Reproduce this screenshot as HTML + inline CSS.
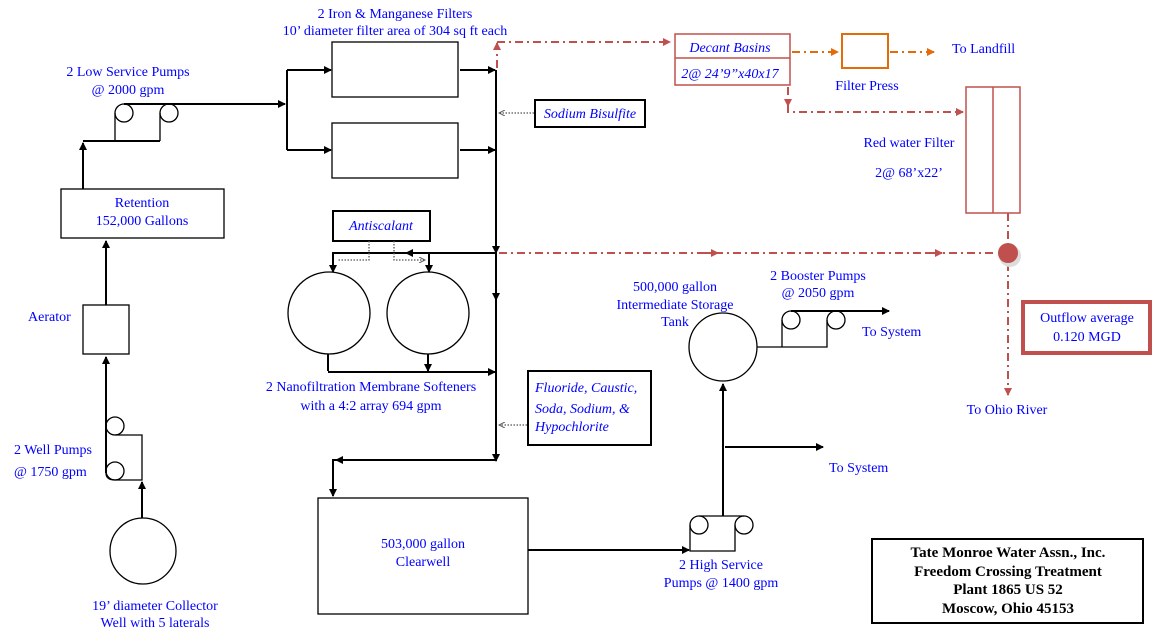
<!DOCTYPE html>
<html><head><style>
body{margin:0;background:#fff}
text{font-family:"Liberation Serif",serif;font-size:14px;fill:#0000ff}
.i{font-style:italic}
.b{fill:#000;font-weight:bold;font-size:15px}
</style></head><body>
<svg width="1167" height="635" viewBox="0 0 1167 635" xmlns="http://www.w3.org/2000/svg">
<defs>
<marker id="a" markerWidth="8" markerHeight="8" refX="7" refY="4" orient="auto" markerUnits="userSpaceOnUse"><path d="M0,0L8,4L0,8z" fill="#000"/></marker>
<marker id="r" markerWidth="8" markerHeight="8" refX="7" refY="4" orient="auto" markerUnits="userSpaceOnUse"><path d="M0,0L8,4L0,8z" fill="#c0504d"/></marker>
<marker id="o" markerWidth="8" markerHeight="8" refX="7" refY="4" orient="auto" markerUnits="userSpaceOnUse"><path d="M0,0L8,4L0,8z" fill="#e36c0a"/></marker>
<marker id="g" markerWidth="7" markerHeight="6" refX="6" refY="3" orient="auto" markerUnits="userSpaceOnUse"><path d="M0,0L6,3L0,6" fill="none" stroke="#555"/></marker>
</defs>
<g stroke="#000" stroke-width="1.3" fill="none">
<!-- well -->
<circle cx="143" cy="551" r="33"/>
<path d="M142 518V482" stroke-width="2" marker-end="url(#a)"/>
<circle cx="115" cy="426" r="9"/><circle cx="115" cy="471" r="9"/>
<path d="M115 480H142V435H115"/>
<path d="M106 473V357" stroke-width="2" marker-end="url(#a)"/>
<path d="M106 473Q106 480 115 480"/>
<rect x="83" y="305" width="46" height="49"/>
<path d="M106 305V241" stroke-width="2" marker-end="url(#a)"/>
<rect x="61" y="189" width="163" height="49"/>
<path d="M83 189V143" stroke-width="2" marker-end="url(#a)"/>
<path d="M83 141H160" stroke-width="2"/>
<path d="M115 141V113 M160 141V113"/>
<circle cx="124" cy="113" r="9"/><circle cx="169" cy="113" r="9"/>
<path d="M124 104H285" stroke-width="2" marker-end="url(#a)"/>
<path d="M287 70V150" stroke-width="2"/>
<path d="M287 70H331" stroke-width="2" marker-end="url(#a)"/>
<path d="M287 150H331" stroke-width="2" marker-end="url(#a)"/>
<rect x="332" y="42" width="126" height="55"/>
<rect x="332" y="123" width="126" height="55"/>
<path d="M460 70H495" stroke-width="2" marker-end="url(#a)"/>
<path d="M460 150H495" stroke-width="2" marker-end="url(#a)"/>
<path d="M496 70V460" stroke-width="2"/>
<path d="M496 230V253" stroke-width="2" marker-end="url(#a)"/>
<path d="M496 280V300" stroke-width="2" marker-end="url(#a)"/>
<path d="M496 440V461" stroke-width="2" marker-end="url(#a)"/>
<!-- antiscalant -->
<rect x="333" y="211" width="97" height="30" stroke-width="2"/>
<path d="M496 253H332" stroke-width="2"/>
<path d="M470 253H406" stroke-width="2" marker-end="url(#a)"/>
<path d="M333 253V272" stroke-width="2" marker-end="url(#a)"/>
<path d="M429 253V272" stroke-width="2" marker-end="url(#a)"/>
<path d="M369 241V260H337 M394 241V260H425" stroke="#555" stroke-dasharray="1.5 1.5" marker-end="url(#g)"/>
<ellipse cx="329" cy="313" rx="41" ry="41"/>
<ellipse cx="428" cy="313" rx="41" ry="41"/>
<path d="M328 354V371 M428 354V371" stroke-width="2" marker-end="url(#a)"/>
<path d="M328 372H495" stroke-width="2" marker-end="url(#a)"/>
<!-- chemicals -->
<rect x="535" y="100" width="110" height="27" stroke-width="2"/>
<path d="M534 113H499" stroke="#555" stroke-dasharray="1.5 1.5" marker-end="url(#g)"/>
<rect x="528" y="371" width="123" height="74" stroke-width="2"/>
<path d="M527 425H499" stroke="#555" stroke-dasharray="1.5 1.5" marker-end="url(#g)"/>
<path d="M496 460H333V496" stroke-width="2" marker-end="url(#a)"/>
<path d="M496 460H336" stroke-width="2" marker-end="url(#a)"/>
<rect x="318" y="498" width="210" height="116"/>
<path d="M528 550H689" stroke-width="2" marker-end="url(#a)"/>
<path d="M690 525V551H735V525"/>
<circle cx="699" cy="525" r="9"/><circle cx="744" cy="525" r="9"/>
<path d="M699 516H744"/>
<path d="M723 516V384" stroke-width="2" marker-end="url(#a)"/>
<path d="M725 447H823" stroke-width="2" marker-end="url(#a)"/>
<circle cx="723" cy="347" r="34"/>
<path d="M757 347H827V320 M782 347V320"/>
<circle cx="791" cy="320" r="9"/><circle cx="836" cy="320" r="9"/>
<path d="M791 311H889" stroke-width="2" marker-end="url(#a)"/>
<rect x="872" y="539" width="271" height="84" stroke-width="2"/>
</g>
<g stroke="#c0504d" stroke-width="2" fill="none" stroke-dasharray="8 4 2 4">
<path d="M497 68V45"/><path d="M497 50V43" stroke-dasharray="none" marker-end="url(#r)"/>
<path d="M497 42H670" marker-end="url(#r)"/>
<rect x="675" y="34" width="115" height="51" stroke-dasharray="none" stroke-width="1.5"/>
<path d="M675 58H790" stroke-dasharray="none" stroke-width="1.5"/>
<path d="M788 87V112H963" marker-end="url(#r)"/>
<path d="M788 87V106" marker-end="url(#r)"/>
<rect x="966" y="87" width="54" height="126" stroke-dasharray="none" stroke-width="1.5"/>
<path d="M993 87V213" stroke-dasharray="none" stroke-width="1.5"/>
<path d="M1008 213V245"/>
<path d="M499 253H997"/>
<path d="M700 253H718" stroke-dasharray="none" marker-end="url(#r)"/>
<path d="M925 253H942" stroke-dasharray="none" marker-end="url(#r)"/>
<path d="M1008 263V395" marker-end="url(#r)"/>
</g>
<circle cx="1010" cy="256" r="11" fill="#ddd"/>
<circle cx="1008" cy="253" r="10" fill="#c0504d"/>
<g stroke="#e36c0a" stroke-width="2" fill="none" stroke-dasharray="8 4 2 4">
<path d="M792 52H838" marker-end="url(#o)"/>
<path d="M890 52H934" marker-end="url(#o)"/>
<rect x="842" y="34" width="46" height="34" stroke-dasharray="none"/>
</g>
<rect x="1023" y="302" width="127" height="51" fill="none" stroke="#c0504d" stroke-width="4"/>
<g text-anchor="middle">
<text x="395" y="18">2 Iron &amp; Manganese Filters</text>
<text x="395" y="35">10’ diameter filter area of 304 sq ft each</text>
<text x="128" y="76">2 Low Service Pumps</text>
<text x="128" y="94">@ 2000 gpm</text>
<text x="142" y="207">Retention</text>
<text x="142" y="225">152,000 Gallons</text>
<text x="381" y="230" class="i">Antiscalant</text>
<text x="590" y="118" class="i">Sodium Bisulfite</text>
<text x="371" y="391">2 Nanofiltration Membrane  Softeners</text>
<text x="371" y="410">with a 4:2 array 694 gpm</text>
<text x="423" y="548">503,000 gallon</text>
<text x="423" y="566">Clearwell</text>
<text x="155" y="610">19’ diameter Collector</text>
<text x="155" y="627">Well with 5 laterals</text>
<text x="721" y="569">2 High Service</text>
<text x="721" y="587">Pumps @ 1400 gpm</text>
<text x="675" y="291">500,000 gallon</text>
<text x="675" y="309">Intermediate Storage</text>
<text x="675" y="326">Tank</text>
<text x="818" y="280">2 Booster Pumps</text>
<text x="818" y="297">@ 2050 gpm</text>
<text x="867" y="90">Filter Press</text>
<text x="909" y="147">Red water Filter</text>
<text x="909" y="177">2@ 68’x22’</text>
<text x="1087" y="322">Outflow average</text>
<text x="1087" y="341">0.120 MGD</text>
<text x="1007" y="414">To Ohio River</text>
<text x="730" y="52" class="i">Decant  Basins</text>
<text x="730" y="78" class="i">2@ 24’9”x40x17</text>
<text x="1008" y="557" class="b">Tate Monroe Water Assn., Inc.</text>
<text x="1008" y="576" class="b">Freedom Crossing Treatment</text>
<text x="1008" y="594" class="b">Plant 1865 US 52</text>
<text x="1008" y="613" class="b">Moscow, Ohio  45153</text>
</g>
<text x="28" y="321">Aerator</text>
<text x="14" y="454">2 Well Pumps</text>
<text x="14" y="476">@ 1750 gpm</text>
<text x="952" y="53">To Landfill</text>
<text x="862" y="336">To System</text>
<text x="829" y="472">To System</text>
<text x="535" y="392" class="i">Fluoride, Caustic,</text>
<text x="535" y="413" class="i">Soda, Sodium, &amp;</text>
<text x="535" y="431" class="i">Hypochlorite</text>
</svg>
</body></html>
